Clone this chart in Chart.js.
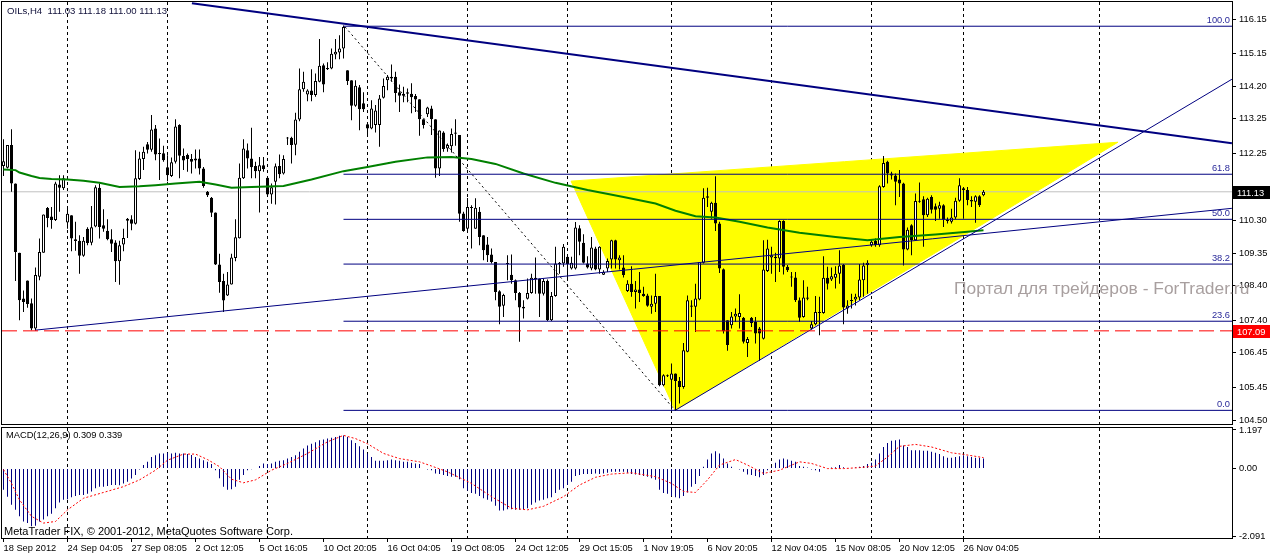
<!DOCTYPE html>
<html>
<head>
<meta charset="utf-8">
<script src="https://cdn.jsdelivr.net/npm/chart.js@4.4.1/dist/chart.umd.min.js"></script>
<style>
    html, body { margin: 0; padding: 0; background: #fff; }
    #wrap { position: relative; width: 1270px; height: 556px; overflow: hidden; font-family: "Liberation Sans", Arial, sans-serif; }
    canvas { position: absolute; left: 0; }
    #mainChart { top: 0; }
    #macdChart { top: 426px; }
    .txt { position: absolute; white-space: pre; }
</style>
</head>
<body>
<div id="wrap">
    <canvas id="mainChart" width="1270" height="426"></canvas>
    <canvas id="macdChart" width="1270" height="130"></canvas>
    <div class="txt" style="left:7px;top:5px;font-size:9.6px;line-height:11px;color:#10103a">OILs,H4  111.03 111.18 111.00 111.13</div>
    <div class="txt" style="left:954px;top:280px;font-size:17.4px;line-height:17px;color:#a89f9f">Портал для трейдеров - ForTrader.ru</div>
    <div class="txt" style="left:6px;top:430px;font-size:9.3px;line-height:11px;color:#000">MACD(12,26,9) 0.309 0.339</div>
    <div class="txt" style="left:4px;top:525px;font-size:11px;line-height:13px;color:#000">MetaTrader FIX, © 2001-2012, MetaQuotes Software Corp.</div>
</div>
<script>
'use strict';

// time axis (bar index -> label), one label every 16 bars
var timeLabels = ['18 Sep 2012', '24 Sep 04:05', '27 Sep 08:05', '2 Oct 12:05', '5 Oct 16:05', '10 Oct 20:05',
    '16 Oct 04:05', '19 Oct 08:05', '24 Oct 12:05', '29 Oct 15:05', '1 Nov 19:05', '6 Nov 20:05',
    '12 Nov 04:05', '15 Nov 08:05', '20 Nov 12:05', '26 Nov 04:05'];
var labelBars = [0, 16, 32, 48, 64, 80, 96, 112, 128, 144, 160, 176, 192, 208, 224, 240];
var gridBars = [16, 41, 66, 91, 116, 141, 167, 192, 217, 240, 274];
var priceTicks = [116.15, 115.15, 114.20, 113.25, 112.25, 111.20, 110.30, 109.35, 108.40, 107.40, 106.45, 105.45, 104.50];

// H4 candles
var opens = [
    111.88, 111.83, 112.49, 111.37, 109.36, 108.03, 108.55, 107.89, 107.16, 108.66,
    109.36, 110.66, 110.41, 110.31, 111.34, 111.23, 110.24, 110.45, 109.75, 109.71,
    109.27, 110.06, 109.65, 110.12, 111.25, 110.16, 110.00, 109.75, 109.66, 109.11,
    109.60, 110.29, 110.33, 110.20, 111.50, 112.08, 112.51, 112.35, 112.97, 112.26,
    112.25, 111.84, 111.59, 112.00, 113.07, 112.17, 112.20, 112.08, 112.04, 112.10,
    111.81, 111.13, 110.96, 110.53, 109.02, 108.54, 108.12, 108.44, 109.21, 109.78,
    111.52, 112.34, 112.10, 111.88, 111.73, 111.90, 111.54, 111.05, 111.42, 111.88,
    111.66, 112.70, 112.70, 112.50, 113.23, 114.11, 113.96, 114.07, 113.94, 114.33,
    114.81, 114.69, 114.71, 115.12, 115.18, 115.29, 114.66, 114.37, 113.63, 114.17,
    113.70, 113.09, 112.97, 113.07, 113.07, 113.86, 114.37, 114.47, 114.47, 114.02,
    113.98, 114.02, 113.98, 113.91, 113.82, 113.24, 113.38, 113.55, 113.24, 111.81,
    112.85, 112.39, 112.45, 112.82, 112.78, 110.50, 110.06, 110.69, 110.06, 110.55,
    109.87, 109.60, 109.31, 109.09, 108.24, 107.82, 109.05, 108.72, 108.56, 108.19,
    107.79, 108.02, 108.19, 108.63, 108.60, 108.17, 108.54, 107.40, 108.10, 109.03,
    109.05, 109.24, 108.90, 108.90, 110.07, 109.65, 109.05, 108.90, 109.48, 108.87,
    108.72, 108.90, 109.16, 109.72, 109.14, 108.93, 108.25, 108.46, 108.22, 108.29,
    108.17, 108.12, 107.79, 107.88, 108.10, 105.51, 105.80, 105.67, 105.85, 105.63,
    105.46, 106.48, 107.79, 107.79, 108.00, 109.07, 111.00, 110.55, 110.81, 110.21,
    108.88, 107.40, 107.25, 107.51, 107.49, 107.47, 106.74, 107.47, 107.35, 107.16,
    106.86, 108.83, 109.22, 109.24, 109.19, 110.28, 108.95, 108.66, 108.64, 107.98,
    107.49, 108.06, 107.16, 107.28, 107.61, 107.61, 108.63, 108.58, 108.63, 108.75,
    109.01, 107.74, 107.96, 108.00, 108.06, 108.56, 109.00, 109.58, 109.70, 109.58,
    111.27, 112.00, 111.66, 111.60, 111.49, 111.37, 109.45, 110.16, 109.72, 110.87,
    110.91, 110.45, 110.98, 110.71, 110.64, 110.74, 110.30, 110.26, 110.38, 110.87,
    111.23, 111.18, 110.89, 110.84, 111.00, 111.03
];
var highs = [
    112.66, 112.49, 112.95, 111.37, 109.36, 108.26, 108.55, 108.03, 108.93, 109.77,
    110.47, 110.69, 110.69, 111.42, 111.61, 111.61, 110.64, 110.45, 110.26, 109.87,
    109.82, 110.10, 110.72, 111.32, 111.37, 110.62, 110.33, 110.04, 109.72, 109.71,
    110.06, 110.37, 110.45, 112.34, 112.29, 112.44, 112.58, 113.36, 113.07, 112.68,
    112.47, 112.19, 112.13, 113.24, 113.09, 112.39, 112.24, 112.23, 112.36, 112.36,
    111.85, 111.15, 110.98, 110.53, 109.33, 108.75, 108.80, 109.33, 110.33, 111.95,
    112.66, 112.53, 112.99, 112.00, 112.14, 112.14, 111.56, 111.37, 111.95, 112.21,
    112.19, 112.72, 112.73, 113.43, 114.71, 114.62, 114.11, 114.69, 114.57, 115.57,
    114.86, 114.89, 115.29, 115.57, 115.68, 115.96, 114.66, 114.37, 114.37, 114.23,
    114.02, 113.11, 113.79, 113.65, 113.94, 114.42, 114.52, 114.83, 114.62, 114.25,
    114.18, 114.13, 114.28, 113.97, 113.82, 113.24, 113.60, 113.63, 113.24, 112.91,
    112.89, 112.53, 112.97, 113.24, 112.78, 110.55, 110.95, 110.74, 110.94, 110.69,
    109.87, 109.82, 109.48, 109.09, 108.27, 108.17, 109.29, 109.31, 108.58, 108.22,
    107.98, 108.61, 108.75, 109.22, 108.61, 108.61, 108.58, 108.22, 109.53, 109.09,
    109.61, 109.29, 109.24, 110.25, 110.16, 109.90, 109.26, 109.82, 109.53, 109.55,
    108.85, 109.19, 109.74, 109.74, 109.29, 109.29, 108.56, 108.97, 108.54, 108.80,
    108.37, 108.17, 108.12, 108.75, 108.10, 105.83, 105.82, 106.14, 105.85, 105.75,
    106.74, 108.12, 107.98, 108.46, 109.09, 111.23, 111.25, 110.84, 111.58, 110.26,
    108.90, 107.40, 107.64, 107.74, 108.15, 107.49, 106.91, 107.49, 107.49, 107.20,
    109.72, 109.74, 109.53, 109.36, 110.30, 110.30, 109.00, 108.80, 108.80, 108.06,
    108.56, 108.37, 107.38, 108.10, 108.08, 109.26, 108.95, 108.93, 108.97, 109.43,
    109.03, 107.98, 108.17, 108.17, 109.03, 109.07, 109.14, 109.74, 109.77, 111.32,
    112.17, 112.03, 111.71, 111.66, 111.76, 111.39, 110.09, 110.19, 111.08, 111.40,
    111.00, 110.96, 111.03, 110.79, 110.84, 110.77, 110.38, 110.64, 110.96, 111.52,
    111.27, 111.27, 111.00, 111.03, 111.03, 111.18
];
var lows = [
    111.59, 111.81, 111.13, 108.54, 107.40, 107.64, 107.76, 107.11, 107.10, 108.56,
    109.36, 110.10, 110.06, 110.28, 110.55, 111.18, 110.06, 109.40, 109.42, 108.75,
    109.24, 109.58, 109.58, 110.10, 109.77, 109.97, 109.72, 109.38, 108.51, 108.43,
    109.40, 109.79, 110.01, 110.18, 111.47, 111.76, 112.24, 112.29, 112.05, 111.47,
    112.00, 111.44, 111.56, 111.95, 111.52, 111.76, 111.71, 111.66, 111.81, 111.63,
    111.25, 110.98, 110.40, 109.00, 108.20, 107.64, 108.10, 108.44, 109.11, 109.77,
    111.50, 111.81, 111.52, 111.52, 110.53, 111.71, 111.03, 110.78, 110.76, 111.52,
    111.63, 112.49, 111.95, 112.19, 113.18, 114.04, 113.76, 113.76, 113.89, 114.31,
    114.02, 114.67, 114.69, 114.98, 114.98, 115.00, 114.23, 113.21, 113.60, 112.92,
    113.45, 112.76, 112.95, 112.85, 112.44, 113.84, 114.08, 114.33, 113.73, 113.45,
    113.73, 113.73, 113.41, 113.45, 112.76, 112.97, 113.30, 112.78, 111.54, 111.59,
    112.29, 112.29, 112.27, 112.47, 110.26, 109.97, 109.97, 109.48, 110.06, 109.58,
    109.14, 109.09, 109.05, 107.98, 107.28, 107.49, 108.56, 108.46, 107.98, 106.77,
    107.45, 108.00, 108.17, 108.17, 107.49, 108.12, 107.38, 107.38, 108.08, 108.75,
    108.95, 108.56, 108.87, 108.87, 109.29, 109.05, 108.90, 108.85, 108.85, 108.75,
    108.71, 108.80, 108.90, 108.90, 108.87, 108.64, 108.22, 108.08, 107.74, 107.93,
    108.08, 107.79, 107.59, 107.64, 105.48, 105.48, 105.75, 104.80, 104.78, 104.98,
    105.41, 106.47, 107.49, 107.06, 107.98, 109.05, 110.69, 110.35, 109.99, 108.77,
    107.01, 106.51, 107.16, 107.35, 107.16, 106.72, 106.33, 107.20, 106.72, 106.22,
    106.84, 108.80, 108.75, 108.51, 108.80, 108.73, 108.80, 108.37, 107.93, 107.35,
    107.47, 107.98, 107.13, 107.25, 106.96, 107.59, 108.29, 108.54, 108.32, 108.46,
    107.28, 107.59, 107.74, 107.83, 107.98, 108.08, 108.17, 109.53, 109.53, 109.53,
    111.25, 111.37, 111.49, 110.74, 110.98, 108.99, 109.43, 109.29, 109.70, 110.81,
    109.53, 110.40, 110.50, 110.28, 110.35, 110.11, 110.21, 110.21, 110.34, 110.84,
    110.35, 110.74, 110.69, 110.23, 110.69, 111.00
];
var closes = [
    112.02, 112.49, 111.37, 109.38, 107.98, 107.93, 107.87, 107.16, 108.71, 109.38,
    110.47, 110.37, 110.31, 111.37, 111.25, 111.52, 110.49, 109.77, 109.70, 109.27,
    109.71, 109.64, 110.10, 111.26, 110.11, 110.06, 109.75, 109.62, 109.11, 109.58,
    109.79, 110.35, 110.20, 111.52, 112.10, 112.29, 112.35, 112.94, 112.21, 112.23,
    112.05, 111.61, 111.99, 113.03, 112.18, 112.04, 112.08, 112.00, 112.10, 111.81,
    111.30, 111.03, 110.52, 109.02, 108.51, 107.97, 108.44, 109.22, 109.81, 111.54,
    112.39, 112.10, 111.84, 111.73, 111.90, 111.79, 111.05, 111.26, 111.87, 111.64,
    112.08, 112.68, 112.49, 113.23, 114.11, 114.33, 114.07, 113.94, 114.35, 114.79,
    114.25, 114.73, 115.14, 115.20, 115.29, 115.92, 114.35, 113.63, 114.21, 113.53,
    113.53, 112.97, 113.55, 113.49, 113.84, 114.20, 114.47, 114.42, 114.00, 113.92,
    113.92, 113.98, 113.88, 113.81, 113.24, 113.07, 113.58, 113.24, 111.81, 112.91,
    112.37, 112.49, 112.81, 112.85, 110.49, 109.99, 110.69, 110.66, 110.67, 109.82,
    109.43, 109.29, 109.09, 108.22, 107.79, 108.13, 109.03, 108.56, 108.19, 107.77,
    107.74, 108.19, 108.63, 108.58, 108.17, 108.54, 107.40, 108.10, 109.05, 109.07,
    109.53, 109.03, 109.07, 110.09, 109.68, 109.07, 108.93, 109.51, 108.87, 109.53,
    108.80, 109.12, 109.72, 109.16, 109.22, 108.71, 108.46, 108.22, 108.29, 108.19,
    108.10, 107.82, 107.88, 108.10, 105.51, 105.80, 105.77, 105.85, 105.63, 105.46,
    106.53, 107.98, 107.83, 108.03, 109.09, 110.96, 110.96, 110.81, 110.21, 108.90,
    107.08, 106.68, 107.51, 107.59, 107.61, 106.77, 106.85, 107.32, 107.01, 107.01,
    108.87, 109.48, 109.29, 109.20, 110.28, 108.95, 108.85, 108.64, 107.98, 107.47,
    108.06, 108.02, 107.28, 107.64, 107.64, 108.63, 108.46, 108.68, 108.75, 108.99,
    107.77, 107.83, 107.98, 108.08, 108.58, 108.99, 109.07, 109.68, 109.58, 111.29,
    111.97, 111.66, 111.60, 111.42, 111.37, 109.45, 110.03, 109.72, 110.86, 110.84,
    110.45, 110.93, 110.61, 110.61, 110.74, 110.32, 110.28, 110.38, 110.87, 111.32,
    111.18, 110.89, 110.85, 111.00, 110.74, 111.13
];

// moving average (green), read at selected bars
var maBars = [0, 3, 4, 7, 9, 12, 16, 20, 24, 29, 34, 38, 43, 49, 53, 57, 62, 70, 77, 85, 91, 98, 106, 112,
    117, 123, 130, 138, 146, 155, 163, 168, 173, 178, 184, 191, 199, 208, 216, 224, 233, 241, 245];
var maValues = [111.78, 111.76, 111.69, 111.59, 111.53, 111.50, 111.49, 111.45, 111.39, 111.27, 111.29, 111.32,
    111.37, 111.42, 111.34, 111.25, 111.27, 111.30, 111.49, 111.73, 111.85, 112.00, 112.13, 112.14,
    112.08, 111.94, 111.66, 111.39, 111.18, 110.98, 110.79, 110.58, 110.42, 110.38, 110.26, 110.09,
    109.94, 109.82, 109.72, 109.82, 109.89, 109.97, 110.01];

// MACD main (histogram) per bar and signal line
var macdMain = [
    -0.66, -0.87, -1.12, -1.28, -1.48, -1.64, -1.69, -1.79, -1.77, -1.64,
    -1.58, -1.48, -1.40, -1.23, -1.05, -0.97, -0.95, -0.89, -0.85, -0.82,
    -0.82, -0.78, -0.71, -0.61, -0.56, -0.56, -0.54, -0.51, -0.51, -0.52,
    -0.46, -0.41, -0.31, -0.20, -0.03, 0.11, 0.21, 0.36, 0.41, 0.47,
    0.47, 0.49, 0.47, 0.49, 0.47, 0.47, 0.45, 0.42, 0.36, 0.31,
    0.26, 0.21, 0.14, -0.05, -0.30, -0.56, -0.66, -0.64, -0.56, -0.35,
    -0.20, -0.05, -0.02, 0.00, 0.08, 0.16, 0.14, 0.16, 0.21, 0.24,
    0.26, 0.31, 0.36, 0.41, 0.52, 0.62, 0.72, 0.77, 0.82, 0.88,
    0.90, 0.93, 0.96, 0.98, 1.02, 1.03, 0.98, 0.88, 0.79, 0.69,
    0.59, 0.47, 0.36, 0.24, 0.24, 0.24, 0.26, 0.28, 0.26, 0.24,
    0.21, 0.21, 0.18, 0.16, 0.14, 0.00, -0.03, -0.05, -0.15, -0.17,
    -0.20, -0.23, -0.25, -0.25, -0.33, -0.61, -0.68, -0.76, -0.78, -0.85,
    -0.92, -0.97, -1.02, -1.15, -1.30, -1.30, -1.26, -1.26, -1.28, -1.28,
    -1.26, -1.23, -1.12, -1.05, -0.99, -0.97, -0.92, -0.89, -0.76, -0.66,
    -0.61, -0.51, -0.41, -0.23, -0.20, -0.17, -0.17, -0.17, -0.15, -0.17,
    -0.15, -0.13, -0.10, -0.10, -0.10, -0.10, -0.13, -0.17, -0.18, -0.20,
    -0.23, -0.25, -0.30, -0.35, -0.66, -0.76, -0.78, -0.85, -0.89, -0.92,
    -0.85, -0.74, -0.56, -0.48, -0.23, 0.06, 0.28, 0.47, 0.54, 0.47,
    0.31, 0.16, 0.06, 0.00, -0.03, -0.10, -0.18, -0.20, -0.23, -0.27,
    -0.20, -0.05, 0.06, 0.18, 0.28, 0.31, 0.28, 0.24, 0.21, 0.08,
    0.06, 0.03, -0.03, -0.05, -0.10, 0.00, 0.00, 0.03, 0.04, 0.11,
    0.04, 0.00, 0.00, 0.03, 0.06, 0.08, 0.14, 0.18, 0.28, 0.47,
    0.67, 0.79, 0.86, 0.88, 0.90, 0.72, 0.67, 0.57, 0.57, 0.57,
    0.55, 0.55, 0.52, 0.49, 0.45, 0.38, 0.34, 0.34, 0.36, 0.38,
    0.41, 0.38, 0.36, 0.34, 0.34, 0.31
];
var signalBars = [0, 2, 4, 7, 10, 13, 16, 20, 25, 30, 34, 38, 41, 45, 48, 51, 54, 57, 60, 63, 67, 71, 76, 81,
    85, 88, 91, 95, 99, 104, 107, 111, 117, 122, 127, 131, 135, 140, 144, 148, 152, 157, 163, 167, 170, 173,
    176, 179, 183, 186, 190, 194, 199, 202, 206, 210, 214, 218, 221, 224, 228, 232, 237, 240, 245];
var signalValues = [-0.03, -0.46, -0.97, -1.48, -1.69, -1.64, -1.28, -0.92, -0.74, -0.56, -0.35, -0.05, 0.26,
    0.45, 0.45, 0.28, 0.06, -0.33, -0.44, -0.35, -0.05, 0.16, 0.47, 0.83, 1.03, 0.93, 0.77, 0.47, 0.31, 0.21,
    0.08, -0.10, -0.46, -0.87, -1.23, -1.28, -1.17, -0.87, -0.51, -0.27, -0.17, -0.13, -0.25, -0.46, -0.71,
    -0.74, -0.35, 0.11, 0.28, 0.11, -0.15, -0.05, 0.21, 0.16, 0.00, 0.00, 0.03, 0.08, 0.36, 0.69, 0.75, 0.67,
    0.49, 0.44, 0.34];
var macdTicks = [1.197, 0, -2.091];
var macdTickNames = ['1.197', '0.00', '-2.091'];

// drawn objects: [bar, price] points
var fibLevels = [115.94, 111.64, 110.33, 109.03, 107.37, 104.78];
var fibNames = ['100.0', '61.8', '50.0', '38.2', '23.6', '0.0'];
var fibStartBar = 85;
var trianglePts = [[141.9, 111.44], [167.9, 104.78], [278.6, 112.57], [141.9, 111.44]];
var resistanceLine = [[47.1, 116.61], [307.1, 112.54]];
var supportLine = [[7.9, 107.11], [307.1, 110.65]];
var risingLine = [[167.9, 104.78], [307.1, 114.40]];
var fibDiagonal = [[85.4, 115.92], [167.9, 104.78]];
var bidPrice = 111.13;
var alertPrice = 107.09;

var X_MIN = -0.375;
var X_MAX = 307.125;
var FONT = '"Liberation Sans", Arial, sans-serif';
Chart.defaults.font.family = FONT;

function pts(list) {
    return list.map(function (p) { return {x: p[0], y: p[1]}; });
}

function segment(points, color, width, order, dash) {
    return {
        type: 'line', data: pts(points), borderColor: color, borderWidth: width,
        borderDash: dash || [], pointRadius: 0, fill: false, tension: 0, order: order
    };
}

function noPadding(scale) {
    scale.paddingTop = 0;
    scale.paddingBottom = 0;
    scale.paddingLeft = 0;
    scale.paddingRight = 0;
}

var framePlugin = {
    id: 'frame',
    afterDraw: function (chart) {
        var a = chart.chartArea, ctx = chart.ctx;
        ctx.save();
        ctx.strokeStyle = '#000';
        ctx.lineWidth = 1;
        ctx.strokeRect(a.left - 0.5, a.top - 0.5, a.right - a.left + 1, a.bottom - a.top + 1);
        ctx.restore();
    }
};

var mainLabelsPlugin = {
    id: 'mainLabels',
    afterDraw: function (chart) {
        var ctx = chart.ctx, a = chart.chartArea, y = chart.scales.y;
        ctx.save();
        ctx.font = '9.3px ' + FONT;
        ctx.fillStyle = '#2a2a9a';
        ctx.textAlign = 'right';
        ctx.textBaseline = 'bottom';
        fibLevels.forEach(function (v, k) {
            ctx.fillText(fibNames[k], a.right - 2, y.getPixelForValue(v) - 1);
        });
        ctx.textAlign = 'left';
        ctx.textBaseline = 'middle';
        [[bidPrice, '#000000'], [alertPrice, '#ff0000']].forEach(function (item) {
            var py = Math.round(y.getPixelForValue(item[0]));
            ctx.fillStyle = item[1];
            ctx.fillRect(a.right + 1, py - 6, 38, 13);
            ctx.fillStyle = '#fff';
            ctx.fillText(item[0].toFixed(2), a.right + 5, py + 1);
        });
        ctx.restore();
    }
};

// main price panel
var datasets = [
    {
        type: 'line', data: pts(trianglePts), fill: 'shape', backgroundColor: '#ffff00',
        borderColor: '#ffff00', borderWidth: 1, pointRadius: 0, order: 20
    },
    segment([[X_MIN, bidPrice], [X_MAX, bidPrice]], '#c0c0c0', 1, 18),
    {
        type: 'bar', grouped: false, order: 12, barThickness: 1, inflateAmount: 0,
        backgroundColor: '#000', borderWidth: 0,
        data: opens.map(function (o, i) { return {x: i, y: [lows[i], highs[i]]}; })
    },
    {
        type: 'bar', grouped: false, order: 11, barThickness: 3, inflateAmount: 0, minBarLength: 1,
        borderColor: '#000', borderWidth: 1, borderSkipped: false,
        backgroundColor: closes.map(function (c, i) { return c >= opens[i] ? '#ffffff' : '#000000'; }),
        data: opens.map(function (o, i) { return {x: i, y: [o, closes[i]]}; })
    },
    {
        type: 'line', order: 8, borderColor: '#008000', borderWidth: 2, pointRadius: 0, tension: 0,
        data: maBars.map(function (b, k) { return {x: b, y: maValues[k]}; })
    }
];
fibLevels.forEach(function (v) {
    datasets.push(segment([[fibStartBar, v], [X_MAX, v]], '#000080', 1, 6));
});
datasets.push(segment(resistanceLine, '#000080', 2, 5));
datasets.push(segment(supportLine, '#000080', 1, 5));
datasets.push(segment(risingLine, '#000080', 1, 5));
datasets.push(segment([[X_MIN, alertPrice], [X_MAX, alertPrice]], '#ff0000', 1, 4, [15, 6]));
datasets.push(segment(fibDiagonal, '#000000', 1, 3, [2, 3]));

new Chart(document.getElementById('mainChart'), {
    type: 'bar',
    data: {datasets: datasets},
    options: {
        responsive: false,
        animation: false,
        devicePixelRatio: 1,
        layout: {padding: {left: 2, top: 2, right: 0, bottom: 2}},
        plugins: {legend: {display: false}, tooltip: {enabled: false}},
        scales: {
            x: {
                type: 'linear', min: X_MIN, max: X_MAX, offset: false,
                afterBuildTicks: function (s) { s.ticks = gridBars.map(function (v) { return {value: v}; }); },
                afterFit: function (s) { s.height = 0; noPadding(s); },
                ticks: {display: false},
                grid: {color: '#000', lineWidth: 1, drawTicks: false, offset: false},
                border: {display: false, dash: [3, 3]}
            },
            y: {
                position: 'right', min: 104.384, max: 116.644,
                afterBuildTicks: function (s) { s.ticks = priceTicks.map(function (v) { return {value: v}; }); },
                afterFit: function (s) { s.width = 38; noPadding(s); },
                ticks: {
                    color: '#000', padding: 3, font: {size: 9.3},
                    callback: function (v) { return v.toFixed(2); }
                },
                grid: {drawOnChartArea: false, drawTicks: true, tickLength: 4, tickColor: '#000'},
                border: {display: false}
            }
        }
    },
    plugins: [framePlugin, mainLabelsPlugin]
});

// MACD panel
new Chart(document.getElementById('macdChart'), {
    type: 'bar',
    data: {
        datasets: [
            {
                type: 'line', order: 1, borderColor: '#ff0000', borderWidth: 1, borderDash: [2, 2],
                pointRadius: 0, tension: 0, xAxisID: 'x',
                data: signalBars.map(function (b, k) { return {x: b, y: signalValues[k]}; })
            },
            {
                type: 'bar', order: 2, barThickness: 1, inflateAmount: 0, grouped: false,
                backgroundColor: '#000080', borderWidth: 0, xAxisID: 'x',
                data: macdMain.map(function (v, i) { return {x: i, y: v}; })
            }
        ]
    },
    options: {
        responsive: false,
        animation: false,
        devicePixelRatio: 1,
        layout: {padding: {left: 2, top: 2, right: 0, bottom: 0}},
        plugins: {legend: {display: false}, tooltip: {enabled: false}},
        scales: {
            x: {
                type: 'linear', position: 'bottom', min: X_MIN, max: X_MAX, offset: false,
                afterBuildTicks: function (s) { s.ticks = labelBars.map(function (v) { return {value: v}; }); },
                afterFit: function (s) { s.height = 18; noPadding(s); },
                ticks: {
                    autoSkip: false, maxRotation: 0, minRotation: 0, align: 'start', padding: 1,
                    color: '#000', font: {size: 9.3},
                    callback: function (v) {
                        var k = labelBars.indexOf(v);
                        return k >= 0 ? timeLabels[k] : '';
                    }
                },
                grid: {drawOnChartArea: false, drawTicks: true, tickLength: 4, tickColor: '#000', offset: false},
                border: {display: false}
            },
            xg: {
                type: 'linear', axis: 'x', position: 'bottom', min: X_MIN, max: X_MAX, offset: false,
                afterBuildTicks: function (s) { s.ticks = gridBars.map(function (v) { return {value: v}; }); },
                afterFit: function (s) { s.height = 0; noPadding(s); },
                ticks: {display: false},
                grid: {color: '#000', lineWidth: 1, drawTicks: false, offset: false},
                border: {display: false, dash: [3, 3]}
            },
            y: {
                position: 'right', min: -2.153, max: 1.259,
                afterBuildTicks: function (s) { s.ticks = macdTicks.map(function (v) { return {value: v}; }); },
                afterFit: function (s) { s.width = 38; noPadding(s); },
                ticks: {
                    color: '#000', padding: 3, font: {size: 9.3},
                    callback: function (v) {
                        var k = macdTicks.indexOf(v);
                        return k >= 0 ? macdTickNames[k] : '';
                    }
                },
                grid: {drawOnChartArea: false, drawTicks: true, tickLength: 4, tickColor: '#000'},
                border: {display: false}
            }
        }
    },
    plugins: [framePlugin]
});
</script>
</body>
</html>
